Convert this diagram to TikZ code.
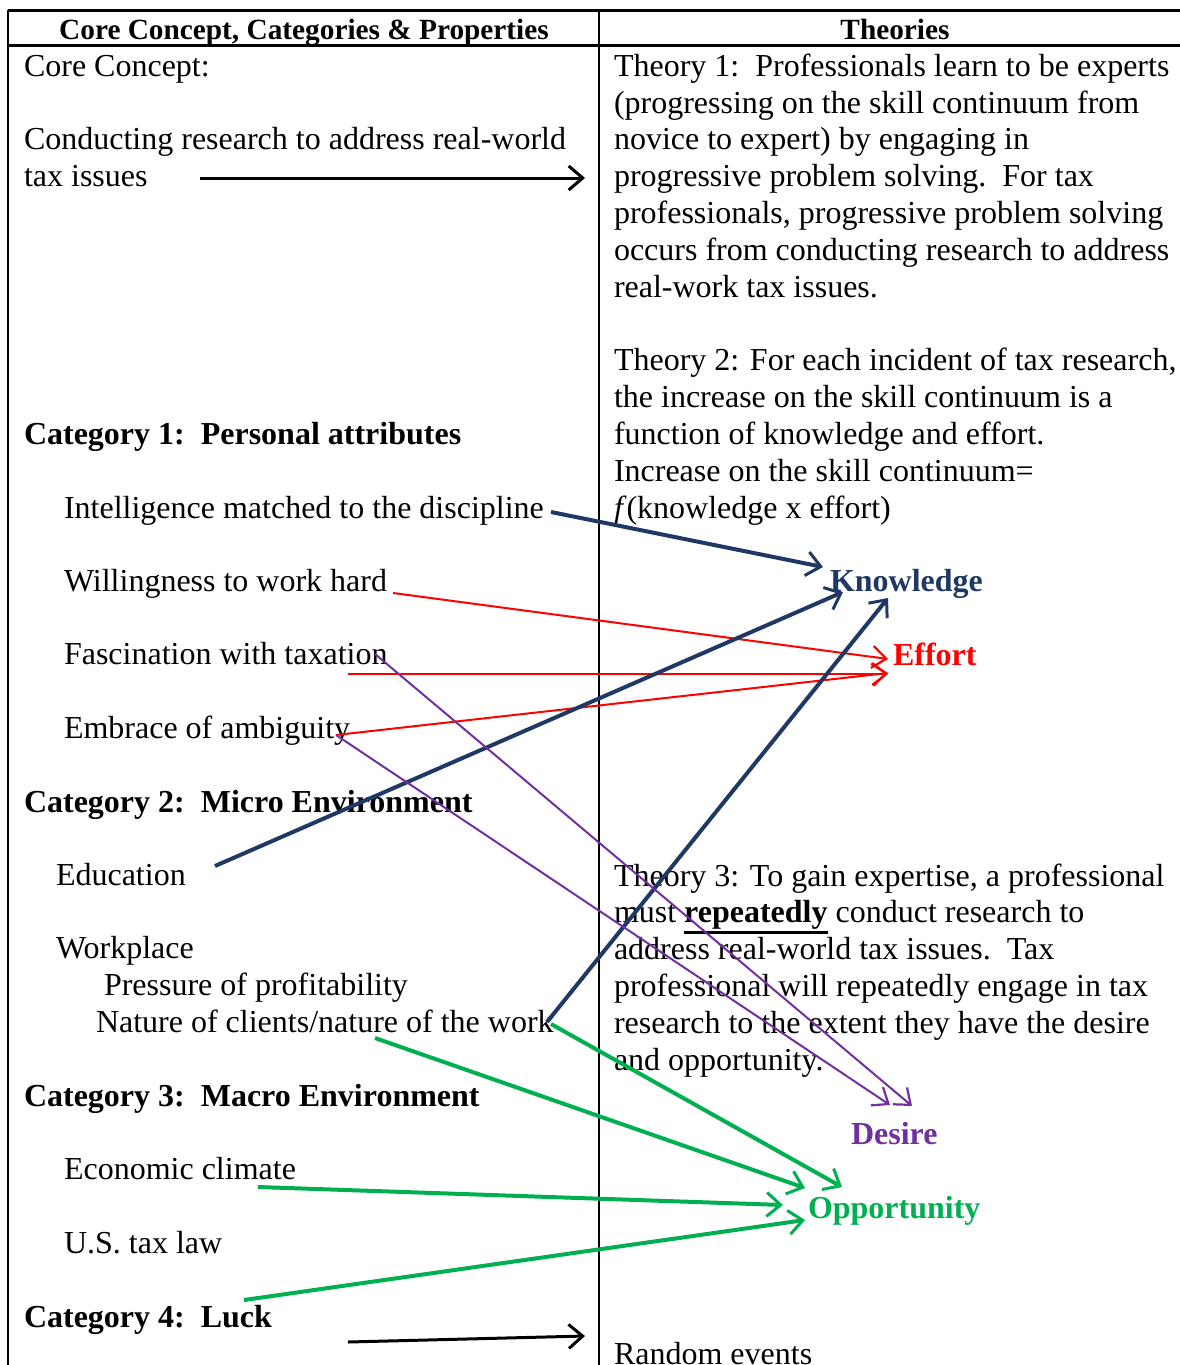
\documentclass[tikz,border=0pt]{standalone}
\usepackage{fontspec}
\setmainfont{Liberation Serif}
\usetikzlibrary{arrows.meta}
\definecolor{navy}{HTML}{1F3864}
\definecolor{rd}{HTML}{FF0000}
\definecolor{purp}{HTML}{7030A0}
\definecolor{grn}{HTML}{00B050}
\newcommand\thickul[1]{\leavevmode\vtop{\hbox{#1}\kern1.5pt\hrule height 2.5pt}}
\tikzset{
  txt/.style={anchor=base west, inner sep=0pt, outer sep=0pt, align=left, yshift=-2pt,
    font=\fontsize{32}{36.8}\selectfont},
  hdr/.style={anchor=base, inner sep=0pt, outer sep=0pt, yshift=-1pt,
    font=\fontsize{29.3}{36.8}\selectfont\bfseries},
  lbl/.style={anchor=base west, inner sep=0pt, outer sep=0pt, yshift=-2pt,
    font=\fontsize{32}{36.8}\selectfont\bfseries},
  rule/.style={line width=3pt},
  arr/.style={-{Straight Barb[length=14pt,width=24pt,line width=3pt]}},
  thickarr/.style={arr, line width=4pt},
  thinarr/.style={-{Straight Barb[length=14pt,width=22pt,line width=2.2pt]}, line width=2pt},
}
\begin{document}
\begin{tikzpicture}[x=1pt,y=-1pt]
\useasboundingbox (0,0) rectangle (1180,1365);
% table lines
\coordinate (tl) at (8,10);
\coordinate (tr) at (1180,10);
\coordinate (hl) at (8,45);
\coordinate (hr) at (1180,45);
\coordinate (bl) at (8,1365);
\coordinate (mt) at (599,10);
\coordinate (mb) at (599,1365);
\draw[rule] (tl) -- (tr);
\draw[rule] (hl) -- (hr);
\draw[line width=2.5pt] (tl) -- (bl);
\draw[line width=2pt] (mt) -- (mb);
% headers
\node[hdr] (h1) at (304,38) {Core Concept, Categories \& Properties};
\node[hdr] (h2) at (895,38) {Theories};
% left column (multi-line nodes are anchored at the baseline of their last line)
\node[txt] (cc) at (24,74) {Core Concept:};
\node[txt] (cc2) at (24,184) {Conducting research to address real-world\\tax issues};
\node[lbl] (c1) at (24,442) {Category 1:\ \ Personal attributes};
\node[txt] (intel) at (64,516) {Intelligence matched to the discipline};
\node[txt] (will) at (64,589) {Willingness to work hard};
\node[txt] (fasc) at (64,662) {Fascination with taxation};
\node[txt] (emb) at (64,736) {Embrace of ambiguity};
\node[lbl] (c2) at (24,810) {Category 2:\ \ Micro Environment};
\node[txt] (edu) at (56,883) {Education};
\node[txt] (work) at (56,956) {Workplace};
\node[txt] (press) at (104,993) {Pressure of profitability};
\node[txt] (nat) at (96,1030) {Nature of clients/nature of the work};
\node[lbl] (c3) at (24,1104) {Category 3:\ \ Macro Environment};
\node[txt] (econ) at (64,1177) {Economic climate};
\node[txt] (law) at (64,1251) {U.S. tax law};
\node[lbl] (c4) at (24,1325) {Category 4:\ \ Luck};
% right column
\node[txt] (t1) at (614,295) {Theory 1:\ \ Professionals learn to be experts\\(progressing on the skill continuum from\\novice to expert) by engaging in\\progressive problem solving.\ \ For tax\\professionals, progressive problem solving\\occurs from conducting research to address\\real-work tax issues.};
\node[txt] (t2) at (614,516) {Theory 2: For each incident of tax research,\\the increase on the skill continuum is a\\function of knowledge and effort.\\Increase on the skill continuum=\\\textit{f}(knowledge x effort)};
\node[txt] (t3) at (614,1068) {Theory 3: To gain expertise, a professional\\must \thickul{\textbf{repeatedly}} conduct research to\\address real-world tax issues.\ \ Tax\\professional will repeatedly engage in tax\\research to the extent they have the desire\\and opportunity.};
\node[txt] (rand) at (614,1362) {Random events};
\node[lbl, text=navy] (know) at (830,589) {Knowledge};
\node[lbl, text=rd] (eff) at (893,663) {Effort};
\node[lbl, text=purp] (des) at (851,1142) {Desire};
\node[lbl, text=grn] (opp) at (808,1216) {Opportunity};
% arrow endpoints
\coordinate (a1s) at (200,178); \coordinate (a1e) at (585,178);
\coordinate (a2s) at (551,512); \coordinate (a2e) at (823,567);
\coordinate (a3s) at (393,593); \coordinate (a3e) at (888,659);
\coordinate (a4s) at (348,674); \coordinate (a4e) at (888,674);
\coordinate (a5s) at (336,735); \coordinate (a5e) at (888,673);
\coordinate (a6s) at (215,866); \coordinate (a6e) at (843,592);
\coordinate (a7s) at (547,1022); \coordinate (a7e) at (888,598);
\coordinate (a8s) at (336,735); \coordinate (a8e) at (890,1105);
\coordinate (a9s) at (375,654); \coordinate (a9e) at (912,1106);
\coordinate (a10s) at (551,1024); \coordinate (a10e) at (842,1187);
\coordinate (a11s) at (375,1038); \coordinate (a11e) at (805,1188);
\coordinate (a12s) at (258,1187); \coordinate (a12e) at (783,1205);
\coordinate (a13s) at (244,1300); \coordinate (a13e) at (805,1220);
\coordinate (a14s) at (348,1342); \coordinate (a14e) at (585,1336);
% arrows
\draw[arr, line width=3pt] (a1s) -- (a1e);
\draw[thickarr, navy] (a2s) -- (a2e);
\draw[thinarr, rd] (a3s) -- (a3e);
\draw[thinarr, rd] (a4s) -- (a4e);
\draw[thinarr, rd] (a5s) -- (a5e);
\draw[thickarr, navy] (a6s) -- (a6e);
\draw[thickarr, navy] (a7s) -- (a7e);
\draw[thinarr, purp] (a8s) -- (a8e);
\draw[thinarr, purp] (a9s) -- (a9e);
\draw[thickarr, grn] (a10s) -- (a10e);
\draw[thickarr, grn] (a11s) -- (a11e);
\draw[thickarr, grn] (a12s) -- (a12e);
\draw[thickarr, grn] (a13s) -- (a13e);
\draw[arr, line width=3pt] (a14s) -- (a14e);
\end{tikzpicture}
\end{document}
